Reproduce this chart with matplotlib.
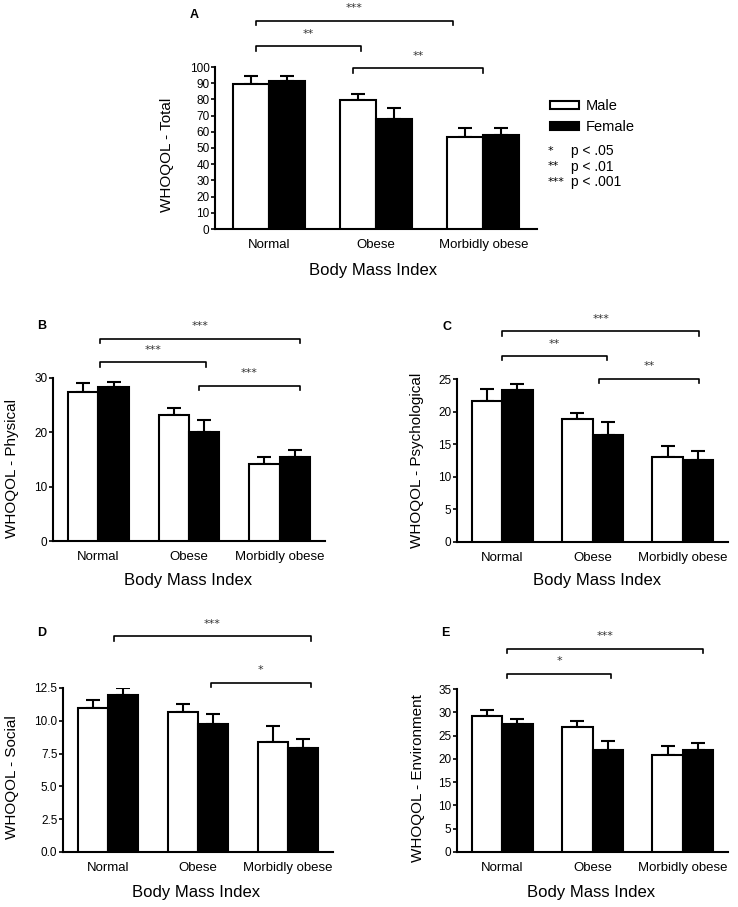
import numpy as np
import matplotlib
matplotlib.use("Agg")
import matplotlib.pyplot as plt
from matplotlib.patches import Patch

plt.rcParams["font.family"] = ["Liberation Sans", "DejaVu Sans"]

groups = ["Normal", "Obese", "Morbidly obese"]

# === values (mean, upper SEM) ===
total_male = [89.5, 79.8, 56.8]
total_male_sem = [4.7, 3.7, 5.5]
total_female = [91.4, 68.1, 58.2]
total_female_sem = [2.8, 6.6, 4.4]

phys_male = [27.35, 23.2, 14.2]
phys_male_sem = [1.75, 1.3, 1.3]
phys_female = [28.4, 20.0, 15.5]
phys_female_sem = [0.9, 2.3, 1.2]

psych_male = [21.7, 18.8, 13.1]
psych_male_sem = [1.7, 1.0, 1.6]
psych_female = [23.3, 16.4, 12.6]
psych_female_sem = [1.0, 2.0, 1.4]

social_male = [11.0, 10.7, 8.4]
social_male_sem = [0.6, 0.6, 1.2]
social_female = [12.0, 9.75, 7.93]
social_female_sem = [0.5, 0.75, 0.72]

env_male = [29.3, 26.9, 20.8]
env_male_sem = [1.2, 1.2, 2.0]
env_female = [27.4, 21.8, 22.0]
env_female_sem = [1.2, 2.1, 1.4]

# significance brackets: (x1, x2, y, label)
sig_A = [(-0.12, 1.72, 128.6, "***"), (-0.12, 0.86, 112.7, "**"), (0.79, 2.0, 99.2, "**")]
sig_B = [(0.02, 2.22, 37.2, "***"), (0.02, 1.19, 32.9, "***"), (1.11, 2.22, 28.6, "***")]
sig_C = [(0.0, 2.18, 32.3, "***"), (0.0, 1.16, 28.5, "**"), (1.07, 2.18, 25.05, "**")]
sig_D = [(0.07, 2.25, 16.45, "***"), (1.14, 2.25, 12.9, "*")]
sig_E = [(0.05, 2.22, 43.6, "***"), (0.05, 1.21, 38.3, "*")]

W, H = 738, 907
fig = plt.figure(figsize=(W / 100, H / 100), dpi=100)


def px_axes(left, top, right, bottom):
    return fig.add_axes([left / W, 1 - bottom / H, (right - left) / W, (bottom - top) / H])


def panel(ax, male, male_sem, female, female_sem, yticks, ymax, sigs, tick_h, fmt=None):
    x = np.arange(len(groups))
    w = 0.336
    ax.bar(x - w / 2, male, w, color="white", edgecolor="black", linewidth=1.5, zorder=3)
    ax.bar(x + w / 2, female, w, color="black", edgecolor="black", linewidth=1.5, zorder=3)
    ax.errorbar(x - w / 2, male, yerr=[np.zeros(3), male_sem], fmt="none", ecolor="black",
                elinewidth=1.5, capsize=5, capthick=1.5, zorder=2)
    ax.errorbar(x + w / 2, female, yerr=[np.zeros(3), female_sem], fmt="none", ecolor="black",
                elinewidth=1.5, capsize=5, capthick=1.5, zorder=2)
    ax.set_xlim(-0.5, 2.5)
    ax.set_ylim(0, ymax)
    ax.set_yticks(yticks)
    if fmt:
        ax.set_yticklabels([fmt % t for t in yticks])
    ax.set_xticks(x)
    ax.set_xticklabels(groups, fontsize=9.5)
    ax.tick_params(axis="x", length=0, pad=7)
    ax.tick_params(axis="y", length=3, width=1.2, pad=1, labelsize=8.5)
    for s in ["top", "right"]:
        ax.spines[s].set_visible(False)
    for s in ["left", "bottom"]:
        ax.spines[s].set_linewidth(1.5)
    for x1, x2, y, lab in sigs:
        ax.plot([x1, x1, x2, x2], [y - tick_h, y, y, y - tick_h], color="black",
                lw=1.2, clip_on=False)
        ax.annotate(lab, xy=((x1 + x2) / 2, y), xytext=(0, 9), textcoords="offset points",
                    ha="center", va="center", fontsize=8, color="#333333",
                    family="DejaVu Sans", annotation_clip=False)


axA = px_axes(215, 67, 537, 229)
panel(axA, total_male, total_male_sem, total_female, total_female_sem,
      range(0, 101, 10), 100, sig_A, 2.7)
axB = px_axes(53, 378, 325, 541)
panel(axB, phys_male, phys_male_sem, phys_female, phys_female_sem,
      [0, 10, 20, 30], 30, sig_B, 0.8)
axC = px_axes(457, 379, 728, 542)
panel(axC, psych_male, psych_male_sem, psych_female, psych_female_sem,
      range(0, 26, 5), 25, sig_C, 0.66)
axD = px_axes(63, 688, 333, 852)
panel(axD, social_male, social_male_sem, social_female, social_female_sem,
      [0, 2.5, 5, 7.5, 10, 12.5], 12.5, sig_D, 0.33, fmt="%.1f")
axE = px_axes(457, 689, 728, 852)
panel(axE, env_male, env_male_sem, env_female, env_female_sem,
      range(0, 36, 5), 35, sig_E, 0.93)


def ftext(x, y, s, **kw):
    fig.text(x / W, 1 - y / H, s, **kw)


# panel letters
for lab, (x, y) in zip("ABCDE", [(194, 15), (42, 326), (447, 327), (42, 633), (445, 633)]):
    ftext(x, y, lab, ha="center", va="center", fontsize=9, fontweight="bold")

# axis titles
for x, y in [(373, 270), (188, 580), (597, 580), (196, 893), (591, 893)]:
    ftext(x, y, "Body Mass Index", ha="center", va="center", fontsize=12)

ylabels = ["WHOQOL - Total", "WHOQOL - Physical", "WHOQOL - Psychological",
           "WHOQOL - Social", "WHOQOL - Environment"]
for lab, (x, y) in zip(ylabels, [(167, 155), (12, 468), (417, 460), (12, 777), (418, 778)]):
    ftext(x, y, lab, ha="center", va="center", rotation=90, fontsize=11)

# legend
handles = [Patch(facecolor="white", edgecolor="black", linewidth=1.5, label="Male"),
           Patch(facecolor="black", edgecolor="black", linewidth=1.5, label="Female")]
fig.legend(handles=handles, loc="upper left", bbox_to_anchor=(543 / W, 1 - 92 / H),
           frameon=False, fontsize=10.5, handlelength=2.0, handleheight=0.45,
           handletextpad=0.4, borderpad=0, labelspacing=0.45)

for i, (st, p) in enumerate([("*", "p < .05"), ("**", "p < .01"), ("***", "p < .001")]):
    y = 151 + i * 15.5
    ftext(548, y, st, ha="left", va="center", fontsize=8, family="DejaVu Sans")
    ftext(571, y, p, ha="left", va="center", fontsize=10)

fig.savefig("out.png", dpi=100)
